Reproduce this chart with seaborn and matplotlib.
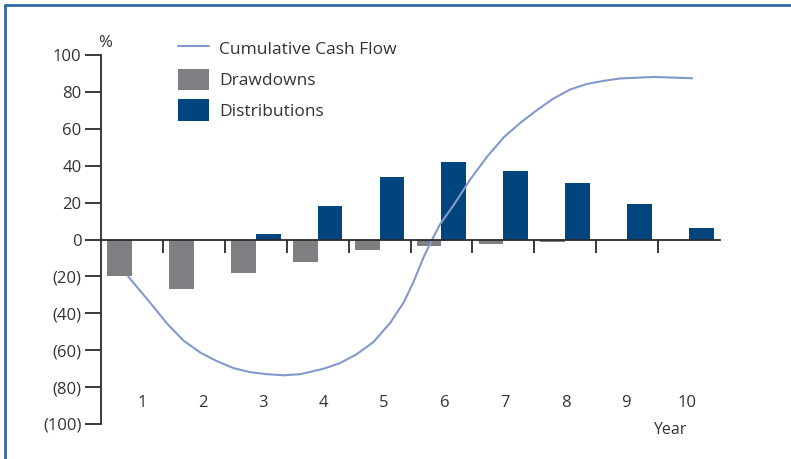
import numpy as np
import pandas as pd
import matplotlib
matplotlib.use('Agg')
import matplotlib.pyplot as plt
from matplotlib.ticker import FuncFormatter, FixedLocator
from matplotlib.lines import Line2D
import seaborn as sns

#-----------------------
# Data
#-----------------------
years = ['1', '2', '3', '4', '5', '6', '7', '8', '9', '10']
drawdowns = [-20, -27, -18, -12, -5.5, -3.5, -2.5, -1.5, 0, 0]
distributions = [0, 0, 3, 18, 34, 42, 37, 30.5, 19, 6.5]

# cumulative cash flow curve, x in years (1 = first bar group)
cum_x = [0.94, 1.29, 1.56, 1.83, 2.10, 2.37, 2.64, 2.91, 3.18, 3.45, 3.72,
         4.09, 4.36, 4.63, 4.90, 5.17, 5.39, 5.55, 5.71, 5.85, 5.98, 6.20,
         6.47, 6.74, 7.01, 7.28, 7.55, 7.81, 8.08, 8.35, 8.62, 8.89, 9.43, 10.05]
cum_y = [-20.1, -34.1, -45.3, -54.7, -61.2, -65.9, -69.7, -71.9, -73.0, -73.6, -73.0,
         -70.1, -67.0, -62.2, -55.6, -45.3, -34.1, -22.9, -9.7, 0.0, 8.4, 18.8,
         32.8, 45.0, 55.5, 63.4, 70.3, 76.4, 81.3, 84.3, 86.0, 87.3, 88.1, 87.4]

# colours
c_draw = '#7e7f83'
c_dist = '#01457f'
c_line = '#8399cc'
c_axis = '#2b2b2b'
c_text = '#333333'
c_border = '#3567a0'

#-----------------------
# Long-form table for seaborn
#-----------------------
df = pd.DataFrame({
    'year': years * 2,
    'kind': ['Drawdowns'] * len(years) + ['Distributions'] * len(years),
    'value': drawdowns + distributions,
})

sns.set_theme(style='white')
plt.rcParams['font.family'] = ['Open Sans', 'DejaVu Sans']
plt.rcParams['text.color'] = c_text

fig = plt.figure(figsize=(7.91, 4.59), dpi=100)
ax = fig.add_axes([101/791, 1 - 424/459, 619/791, 369/459])

sns.barplot(data=df, x='year', y='value', hue='kind', order=years,
            hue_order=['Drawdowns', 'Distributions'],
            palette=[c_draw, c_dist], width=0.8, saturation=1,
            linewidth=0, ax=ax)

# cumulative cash flow line (categorical positions start at 0)
ax.plot(np.array(cum_x) - 1, cum_y, color=c_line, lw=1.5,
        solid_joinstyle='round', label='Cumulative Cash Flow', zorder=3)

#-----------------------
# Axes styling
#-----------------------
ax.set_xlim(-0.5, 9.5)
ax.set_ylim(-100, 100)
ax.set_xlabel('')
ax.set_ylabel('')

for s in ['top', 'right']:
    ax.spines[s].set_visible(False)
ax.spines['left'].set_color(c_axis)
ax.spines['left'].set_linewidth(1.3)
ax.spines['bottom'].set_position(('data', 0))
ax.spines['bottom'].set_color(c_axis)
ax.spines['bottom'].set_linewidth(1.3)
ax.spines['bottom'].set_zorder(4)

ax.set_yticks(np.arange(-100, 101, 20))
ax.yaxis.set_major_formatter(FuncFormatter(
    lambda v, p: '(%d)' % abs(v) if v < 0 else '%d' % v))
ax.tick_params(axis='y', which='major', left=True, direction='out',
               length=11.5, width=1.3, color=c_axis, pad=2.5,
               labelsize=12, labelcolor=c_text)

# year labels sit slightly right of the bar groups, as in the original
ax.set_xticks(np.arange(len(years)) * 0.978 + 0.16, years)
ax.xaxis.set_minor_locator(FixedLocator(np.arange(0.5, 9, 1)))
ax.tick_params(axis='x', which='minor', bottom=True, direction='out',
               length=9.5, width=1.3, color=c_axis)
ax.tick_params(axis='x', which='major', bottom=True, length=0,
               pad=112, labelsize=12, labelcolor=c_text)

ax.text(0.0065, 1.033, '%', transform=ax.transAxes, fontsize=12,
        ha='center', va='center', color=c_text)
ax.text(0.919, -0.016, 'Year', transform=ax.transAxes, fontsize=11.5,
        ha='center', va='center', color=c_text)

#-----------------------
# Legend
#-----------------------
handles, labels = ax.get_legend_handles_labels()
order = [labels.index('Cumulative Cash Flow'), labels.index('Drawdowns'),
         labels.index('Distributions')]
leg = ax.legend([handles[i] for i in order], [labels[i] for i in order],
                loc='upper left', bbox_to_anchor=(178/791, 1 - 38/459),
                bbox_transform=fig.transFigure, frameon=False,
                fontsize=12.5, borderpad=0, borderaxespad=0,
                handlelength=1.78, handleheight=1.5, handletextpad=0.6,
                labelspacing=0.55)
for t in leg.get_texts():
    t.set_color(c_text)

# blue border on top and left edge of the image
fig.add_artist(Line2D([5/791, 1], [1 - 5/459, 1 - 5/459],
                      transform=fig.transFigure, color=c_border, lw=2))
fig.add_artist(Line2D([5/791, 5/791], [0, 1 - 5/459],
                      transform=fig.transFigure, color=c_border, lw=2))

fig.savefig('out.png', dpi=100)
